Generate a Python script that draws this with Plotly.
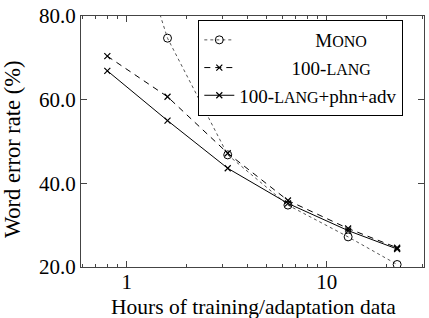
import plotly.graph_objects as go

hours = [0.8, 1.6, 3.2, 6.4, 12.8, 22.5]
mono = [120.0, 74.7, 46.8, 34.8, 27.2, 20.6]
lang100 = [70.4, 60.7, 47.2, 35.9, 29.2, 24.6]
lang100_adv = [66.9, 55.0, 43.6, 35.2, 28.7, 24.3]

x_title = "Hours of training/adaptation data"
y_title = "Word error rate (%)"

SC = 16
names = [
    "\u00a0\u00a0\u00a0\u00a0\u00a0\u00a0\u00a0\u00a0\u00a0\u00a0\u00a0\u00a0\u00a0\u00a0\u00a0\u00a0M<span style='font-size:%dpx'>ONO</span>" % SC,
    "\u00a0\u00a0\u00a0\u00a0\u00a0\u00a0\u00a0\u00a0\u00a0\u00a0\u00a0100-<span style='font-size:%dpx'>LANG</span>" % SC,
    "100-<span style='font-size:%dpx'>LANG</span>+phn+adv" % SC,
]

FONT = "Liberation Serif"

fig = go.Figure()
fig.add_trace(go.Scatter(
    x=hours, y=mono, name=names[0], mode="lines+markers",
    line=dict(color="#555555", width=1, dash="dot"),
    marker=dict(symbol="circle-open", size=8, color="black", line=dict(width=1)),
))
fig.add_trace(go.Scatter(
    x=hours, y=lang100, name=names[1], mode="lines+markers",
    line=dict(color="black", width=1, dash="6px,5px"),
    marker=dict(symbol="x-thin-open", size=6, color="black", line=dict(width=1.2, color="black")),
))
fig.add_trace(go.Scatter(
    x=hours, y=lang100_adv, name=names[2], mode="lines+markers",
    line=dict(color="black", width=1),
    marker=dict(symbol="x-thin-open", size=6, color="black", line=dict(width=1.2, color="black")),
))

fig.update_layout(
    width=429, height=318,
    margin=dict(l=81, r=5, t=16, b=51),
    paper_bgcolor="white", plot_bgcolor="white",
    font=dict(family=FONT, size=21, color="black"),
    showlegend=True,
    legend=dict(
        x=0.342, y=0.984, xanchor="left", yanchor="top",
        bordercolor="black", borderwidth=1, bgcolor="white",
        font=dict(family=FONT, size=19, color="black"),
        tracegroupgap=0, itemwidth=30,
    ),
    xaxis=dict(
        type="log", range=[-0.2285, 1.4865], automargin=False,
        tickvals=[1, 10], ticktext=["1", "10"],
        ticks="inside", ticklen=6, tickcolor="#444",
        showline=True, linecolor="#444", linewidth=1, mirror="allticks",
        showgrid=False, zeroline=False,
        minor=dict(ticks="inside", ticklen=3, tickcolor="#444",
                   tickvals=[0.6, 0.7, 0.8, 0.9, 2, 3, 4, 5, 6, 7, 8, 9, 20, 30], showgrid=False),
        tickfont=dict(family=FONT, size=21),
        ticklabelstandoff=-4,
    ),
    yaxis=dict(
        range=[20, 80], dtick=20, tick0=20, tickformat=".1f", automargin=False,
        ticks="inside", ticklen=6, tickcolor="#444",
        showline=True, linecolor="#444", linewidth=1, mirror="allticks",
        showgrid=False, zeroline=False,
        tickfont=dict(family=FONT, size=21),
    ),
    annotations=[
        dict(text=x_title, xref="paper", yref="paper", x=0.503, y=-0.158,
             xanchor="center", yanchor="middle", showarrow=False,
             font=dict(family=FONT, size=21.5, color="black")),
        dict(text=y_title, xref="paper", yref="paper", x=-0.201, y=0.466,
             xanchor="center", yanchor="middle", showarrow=False, textangle=-90,
             font=dict(family=FONT, size=22.5, color="black")),
    ],
)

fig.write_html("out.html")
